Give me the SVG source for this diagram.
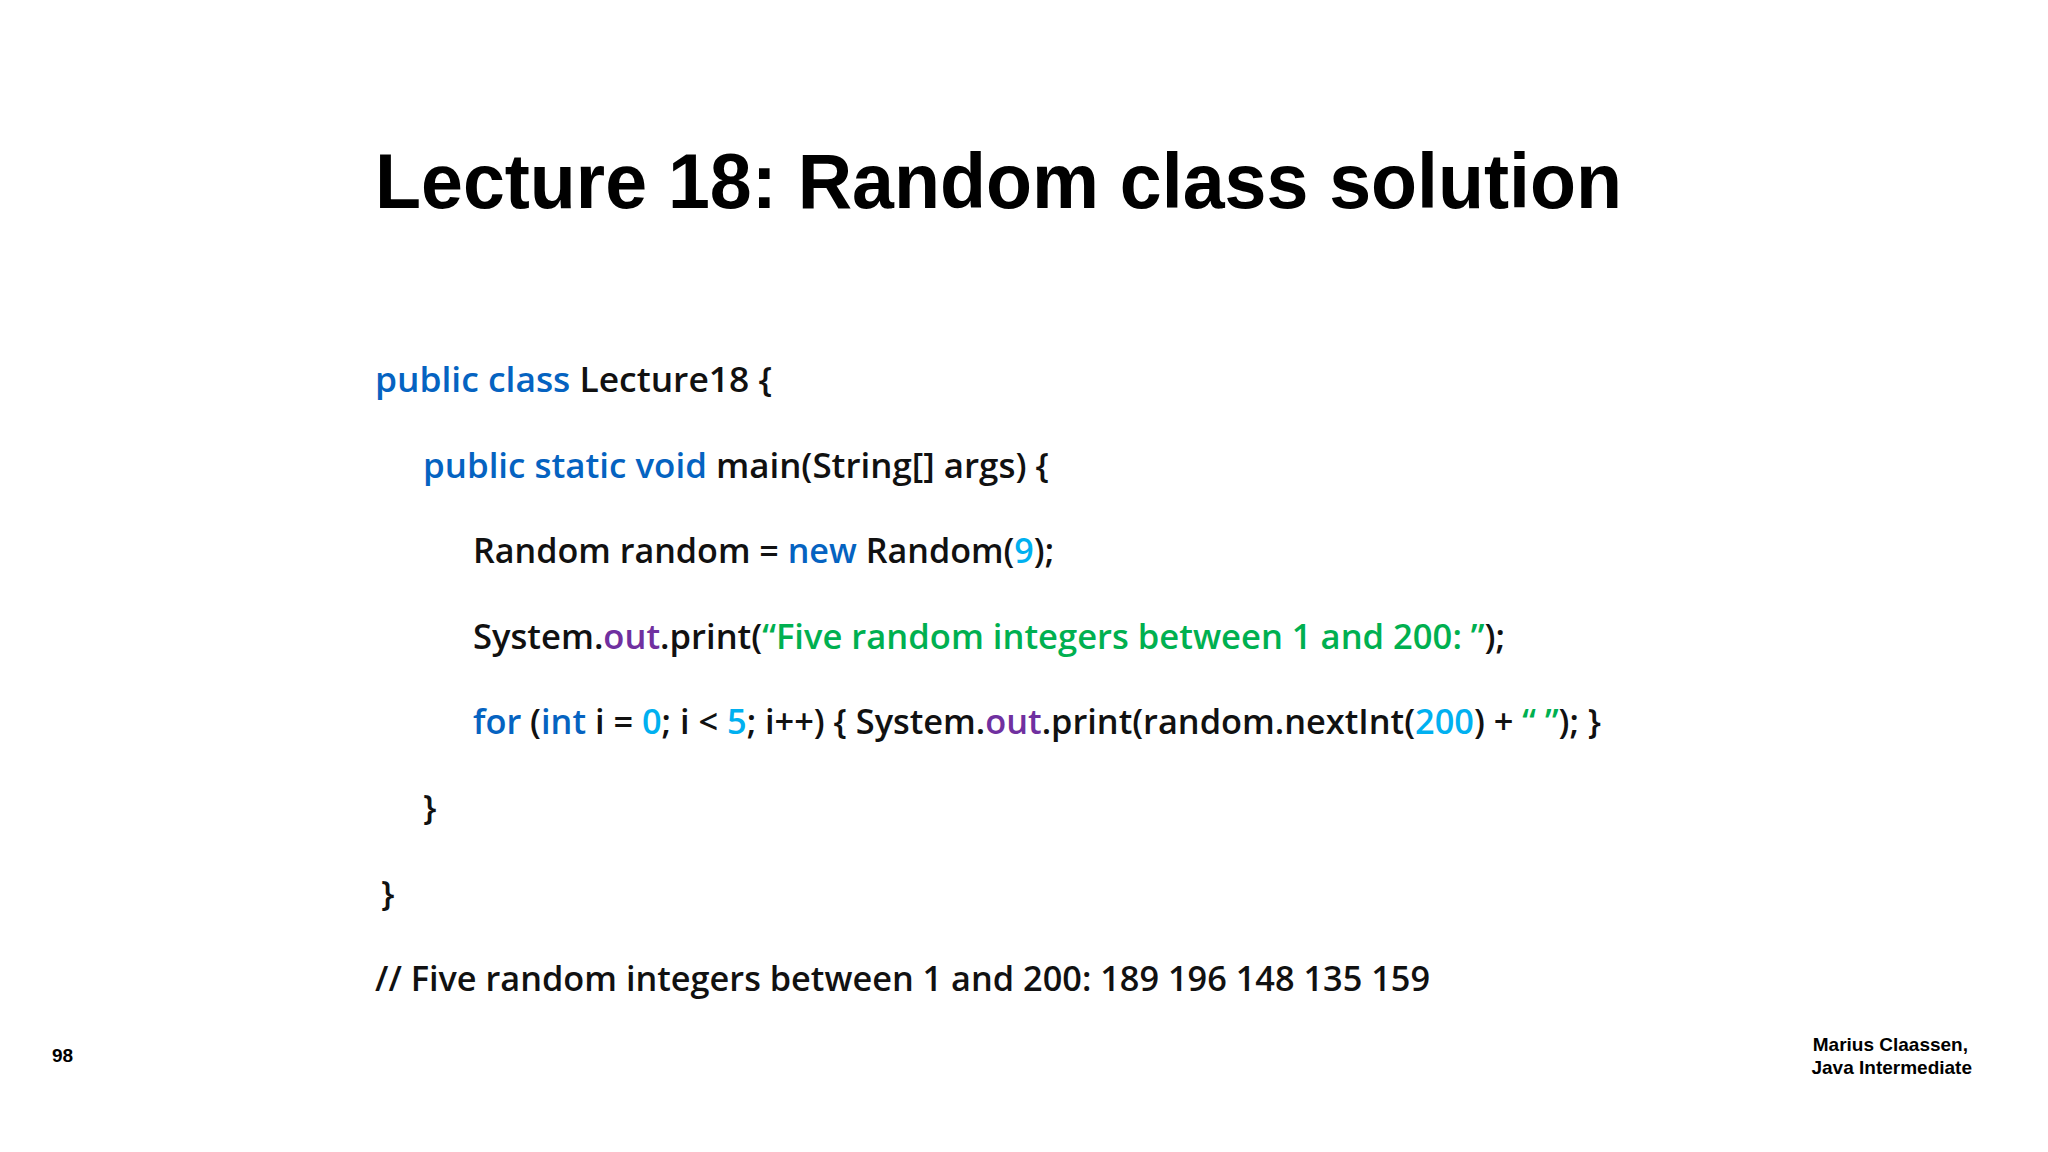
<svg xmlns="http://www.w3.org/2000/svg" width="2048" height="1152" viewBox="0 0 2048 1152">
<style>
.t{font-family:"Liberation Sans",Arial,sans-serif;font-weight:bold;fill:#000}
.c{font-family:"Open Sans","Liberation Sans",sans-serif;font-weight:600;font-size:35px;fill:#111}
.k{fill:#0563C1}.n{fill:#00B0F0}.o{fill:#7030A0}.s{fill:#00B050}
.f{font-family:"Liberation Sans",Arial,sans-serif;font-weight:bold;font-size:19px;fill:#000}
</style>
<rect width="2048" height="1152" fill="#fff"/>
<text class="t" x="375" y="208" font-size="78" textLength="1247" lengthAdjust="spacingAndGlyphs">Lecture 18: Random class solution</text>
<text class="c" x="375" y="392" textLength="397" lengthAdjust="spacingAndGlyphs"><tspan class="k">public class</tspan> Lecture18 {</text>
<text class="c" x="423" y="478" textLength="626" lengthAdjust="spacingAndGlyphs"><tspan class="k">public static void</tspan> main(String[] args) {</text>
<text class="c" x="473" y="563" textLength="581" lengthAdjust="spacingAndGlyphs">Random random = <tspan class="k">new</tspan> Random(<tspan class="n">9</tspan>);</text>
<text class="c" x="473" y="649" textLength="1032" lengthAdjust="spacingAndGlyphs">System.<tspan class="o">out</tspan>.print(<tspan class="s">“Five random integers between 1 and 200: ”</tspan>);</text>
<text class="c" x="473" y="734" textLength="1128" lengthAdjust="spacingAndGlyphs"><tspan class="k">for</tspan> (<tspan class="k">int</tspan> i = <tspan class="n">0</tspan>; i &lt; <tspan class="n">5</tspan>; i++) { System.<tspan class="o">out</tspan>.print(random.nextInt(<tspan class="n">200</tspan>) + <tspan class="s">“ ”</tspan>); }</text>
<text class="c" x="423" y="820">}</text>
<text class="c" x="381" y="906">}</text>
<text class="c" x="375" y="991" textLength="1055" lengthAdjust="spacingAndGlyphs">// Five random integers between 1 and 200: 189 196 148 135 159</text>
<text class="f" x="52" y="1062" font-size="18">98</text>
<text class="f" x="1968" y="1051" text-anchor="end">Marius Claassen,</text>
<text class="f" x="1972" y="1074" text-anchor="end">Java Intermediate</text>
</svg>
